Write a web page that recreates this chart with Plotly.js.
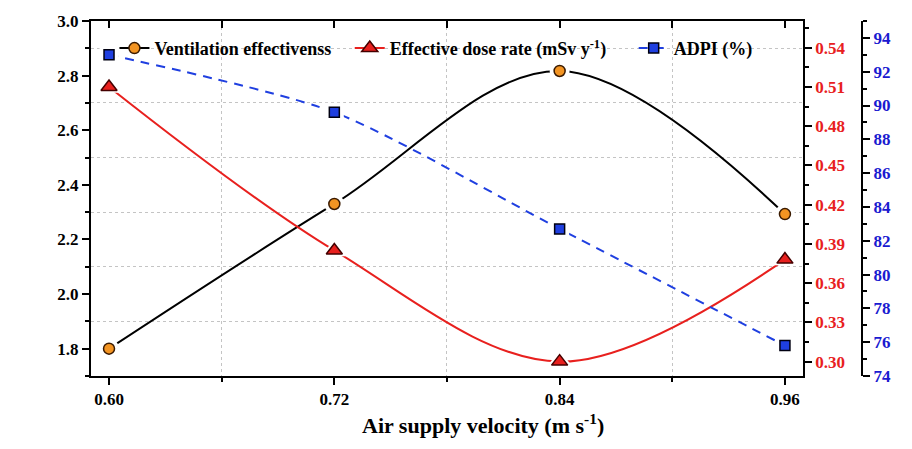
<!DOCTYPE html>
<html><head><meta charset="utf-8">
<script src="https://cdn.plot.ly/plotly-3.0.1.min.js"></script>
<style>body{margin:0;background:#fff}#c{width:912px;height:449px}</style>
</head><body><div id="c"></div>
<script>
const velocity = [0.60, 0.72, 0.84, 0.96];
const ventEff = [1.80, 2.33, 2.817, 2.293];
const doseRate = [0.510, 0.385, 0.300, 0.378];
const adpi = [93.0, 89.6, 82.7, 75.8];
const names = ['Ventilation effectivenss\u00a0\u00a0\u00a0', 'Effective dose rate (mSv y<sup>-1</sup>)\u00a0\u00a0\u00a0\u00a0\u00a0', 'ADPI (%)'];
const xTitle = 'Air supply velocity (m s<sup>-1</sup>)';

const F = 'Liberation Serif, Times New Roman, serif';
const styles = [
  {ya: 'y', y: ventEff, line: {color: '#000', width: 2, shape: 'spline'},
   marker: {symbol: 'circle', size: 11, color: '#f39422', line: {color: '#3a1a00', width: 1.5}}},
  {ya: 'y2', y: doseRate, line: {color: '#e8201e', width: 2, shape: 'spline'},
   marker: {symbol: 'triangle-up', size: 14, color: '#e8201e', line: {color: '#400', width: 1.5}}},
  {ya: 'y3', y: adpi, line: {color: '#1f3fe0', width: 2, dash: '9px,7px', shape: 'spline', smoothing: 0.7},
   marker: {symbol: 'square', size: 10, color: '#1f3fe0', line: {color: '#001', width: 1.5}}}
];
const traces = [];
traces.push({x: [null], y: [null], xaxis: 'x2', yaxis: 'y', showlegend: false, hoverinfo: 'skip'});
traces.push({x: [null], y: [null], xaxis: 'x3', yaxis: 'y4', showlegend: false, hoverinfo: 'skip'});
styles.forEach((s, i) => {
  traces.push({x: velocity, y: s.y, yaxis: s.ya, mode: 'lines', line: s.line, showlegend: false, hoverinfo: 'skip'});
  traces.push({x: velocity, y: s.y, yaxis: s.ya, mode: 'markers', showlegend: false, hoverinfo: 'skip',
    marker: {symbol: s.marker.symbol, size: s.marker.size + 9, color: '#ffffff', opacity: 1, line: {width: 0}}});
  traces.push({x: velocity, y: s.y, yaxis: s.ya, mode: 'markers', showlegend: false, marker: s.marker});
});
styles.forEach((s, i) => {
  traces.push({x: [null], y: [null], yaxis: s.ya, name: names[i], mode: 'lines+markers', line: s.line, marker: s.marker});
});

const grid = '#c4c4c4';
const layout = {
  width: 912, height: 449,
  margin: {l: 91, r: 40, t: 21, b: 73},
  paper_bgcolor: '#fff', plot_bgcolor: '#fff',
  font: {family: F, size: 17, color: '#000', weight: 'bold'},
  showlegend: true,
  legend: {orientation: 'h', x: 0.03, y: 0.975, xanchor: 'left', yanchor: 'top', bgcolor: 'rgba(0,0,0,0)',
    font: {family: F, size: 18, weight: 'bold'}, itemwidth: 30},
  xaxis: {domain: [0, 0.9116], range: [0.5904, 0.9696], tick0: 0.6, dtick: 0.12, tickformat: '.2f',
    showline: true, linecolor: '#000', linewidth: 2, ticks: 'outside', ticklen: 7, tickwidth: 2, tickcolor: '#000',
    showgrid: false, zeroline: false,
    minor: {dtick: 0.06, ticks: 'outside', ticklen: 4, tickwidth: 2, tickcolor: '#000'},
    tickfont: {family: F, size: 17, weight: 'bold'}},
  xaxis2: {overlaying: 'x', side: 'top', anchor: 'y', range: [0.5904, 0.9696], tick0: 0.6, dtick: 0.06,
    showline: true, linecolor: '#000', linewidth: 2, ticks: 'inside', ticklen: 7, tickwidth: 2, tickcolor: '#000',
    showticklabels: false, showgrid: false, zeroline: false},
  xaxis3: {overlaying: 'x', anchor: 'y4', range: [0.5904, 0.9696], tickmode: 'array', tickvals: [0.66, 0.78, 0.90], showticklabels: false,
    ticks: '', showline: false, zeroline: false, showgrid: true, gridcolor: grid, griddash: 'dot', gridwidth: 1},
  yaxis: {range: [1.7, 3.0], tick0: 1.8, dtick: 0.2, tickformat: '.1f',
    showline: true, linecolor: '#000', linewidth: 2, ticks: 'outside', ticklen: 7, tickwidth: 2, tickcolor: '#000',
    showgrid: false, zeroline: false,
    minor: {dtick: 0.1, ticks: 'outside', ticklen: 4, tickwidth: 2, tickcolor: '#000'},
    tickfont: {family: F, size: 17, weight: 'bold'}},
  yaxis4: {overlaying: 'y', anchor: 'x3', range: [1.7, 3.0], tick0: 1.9, dtick: 0.2, showticklabels: false,
    ticks: '', showline: false, zeroline: false, showgrid: true, gridcolor: grid, griddash: 'dot', gridwidth: 1},
  yaxis2: {overlaying: 'y', side: 'right', anchor: 'x', range: [0.289, 0.5604], tick0: 0.30, dtick: 0.03, tickformat: '.2f',
    showline: true, linecolor: '#000', linewidth: 2, ticks: 'outside', ticklen: 7, tickwidth: 2, tickcolor: '#000',
    showgrid: false, zeroline: false,
    minor: {dtick: 0.015, ticks: 'outside', ticklen: 4, tickwidth: 2, tickcolor: '#000'},
    tickfont: {family: F, size: 17, color: '#e8201e', weight: 'bold'}},
  yaxis3: {overlaying: 'y', side: 'right', anchor: 'free', position: 0.9872, range: [74, 95], tick0: 74, dtick: 2,
    showline: true, linecolor: '#000', linewidth: 2, ticks: 'outside', ticklen: 7, tickwidth: 2, tickcolor: '#000',
    showgrid: false, zeroline: false,
    minor: {dtick: 1, ticks: 'outside', ticklen: 4, tickwidth: 2, tickcolor: '#000'},
    tickfont: {family: F, size: 17, color: '#1a1ad0', weight: 'bold'}},
  annotations: [{text: xTitle, xref: 'paper', yref: 'paper', x: 0.502, y: -0.135, xanchor: 'center', yanchor: 'middle',
    showarrow: false, font: {family: F, size: 22, weight: 'bold', color: '#000'}}]
};
Plotly.newPlot('c', traces, layout, {displayModeBar: false, staticPlot: true});
</script></body></html>
